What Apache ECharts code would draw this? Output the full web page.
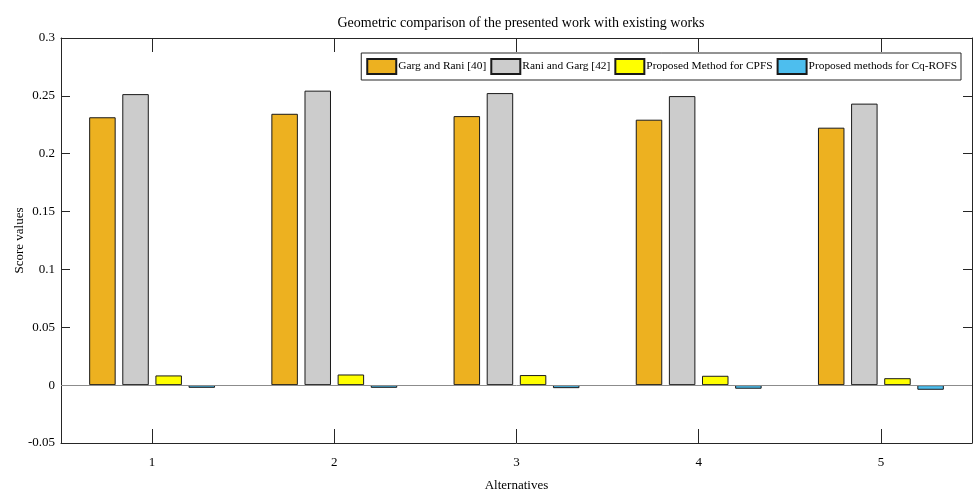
<!DOCTYPE html>
<html>
<head>
<meta charset="utf-8">
<script src="https://cdn.jsdelivr.net/npm/echarts@6/dist/echarts.min.js"></script>
<style>html,body{margin:0;padding:0;background:#fff}#c{width:974px;height:495px}</style>
</head>
<body>
<div id="c"></div>
<script>
const categories = ['1', '2', '3', '4', '5'];
const seriesNames = ['Garg and Rani [40]', 'Rani and Garg [42]', 'Proposed Method for CPFS', 'Proposed methods for Cq-ROFS'];
const gargRani = [0.2315, 0.2345, 0.2325, 0.2294, 0.2225];
const raniGarg = [0.2515, 0.2545, 0.2524, 0.2498, 0.2433];
const cpfs = [0.0084, 0.0092, 0.0087, 0.0081, 0.0060];
const cqrofs = [-0.0023, -0.0023, -0.0026, -0.0031, -0.0040];
const colors = ['#EDB120', '#CCCCCC', '#FFFF00', '#4DBEEE'];
const yTicks = { min: -0.05, max: 0.3, interval: 0.05 };

const FONT = 'Liberation Serif';
const values = [gargRani, raniGarg, cpfs, cqrofs];
const chart = echarts.init(document.getElementById('c'));
const axisLine = { show: true, lineStyle: { color: '#262626', width: 1 } };
chart.setOption({
  animation: false,
  textStyle: { fontFamily: FONT },
  title: {
    text: 'Geometric comparison of the presented work with existing works',
    left: 516, textAlign: 'center', top: 11,
    textStyle: { fontFamily: FONT, fontSize: 14, fontWeight: 'normal', color: '#000' }
  },
  legend: {
    data: seriesNames,
    right: 13, top: 53,
    orient: 'horizontal',
    itemWidth: 29, itemHeight: 15, itemGap: 4,
    padding: [5, 4, 5, 5],
    borderColor: '#262626', borderWidth: 1,
    backgroundColor: '#fff',
    icon: 'rect',
    textStyle: { fontFamily: FONT, fontSize: 11.4, color: '#000', padding: [0, 0, 0, -3] }
  },
  grid: { left: 61, right: 2, top: 38, bottom: 52, outerBoundsMode: 'none', containLabel: false },
  xAxis: [{
    type: 'category', data: categories, position: 'bottom',
    axisLine: Object.assign({ onZero: false }, axisLine),
    axisTick: { show: true, inside: true, alignWithLabel: true, length: 14, lineStyle: { color: '#262626' } },
    axisLabel: { fontFamily: FONT, fontSize: 13, color: '#000', margin: 13 },
    name: 'Alternatives', nameLocation: 'middle', nameGap: 36, nameMoveOverlap: false,
    nameTextStyle: { fontFamily: FONT, fontSize: 13, color: '#000' }
  }, {
    type: 'category', data: categories, position: 'top',
    axisLine: Object.assign({ onZero: false }, axisLine),
    axisTick: { show: true, inside: true, alignWithLabel: true, length: 14, lineStyle: { color: '#262626' } },
    axisLabel: { show: false }
  }],
  yAxis: [{
    type: 'value', min: yTicks.min, max: yTicks.max, interval: yTicks.interval, position: 'left',
    axisLine: axisLine,
    axisTick: { show: true, inside: true, length: 9, lineStyle: { color: '#262626' } },
    splitLine: { show: false },
    axisLabel: { fontFamily: FONT, fontSize: 13, color: '#000', margin: 6 },
    name: 'Score values', nameLocation: 'middle', nameGap: 35, nameMoveOverlap: false,
    nameTextStyle: { fontFamily: FONT, fontSize: 13, color: '#000' }
  }, {
    type: 'value', min: yTicks.min, max: yTicks.max, interval: yTicks.interval, position: 'right',
    axisLine: axisLine,
    axisTick: { show: true, inside: true, length: 9, lineStyle: { color: '#262626' } },
    splitLine: { show: false },
    axisLabel: { show: false }
  }],
  series: seriesNames.map((name, i) => ({
    name: name, type: 'bar', data: values[i],
    xAxisIndex: 0, yAxisIndex: 0,
    barWidth: 26.5, barGap: '25%',
    itemStyle: { color: colors[i], borderColor: '#1a1a1a', borderWidth: 1 },
    markLine: i === 0 ? {
      silent: true, symbol: 'none', label: { show: false },
      lineStyle: { color: '#8c8c8c', type: 'solid', width: 1 },
      data: [{ yAxis: 0 }]
    } : undefined,
    z: 3
  }))
});
</script>
</body>
</html>
